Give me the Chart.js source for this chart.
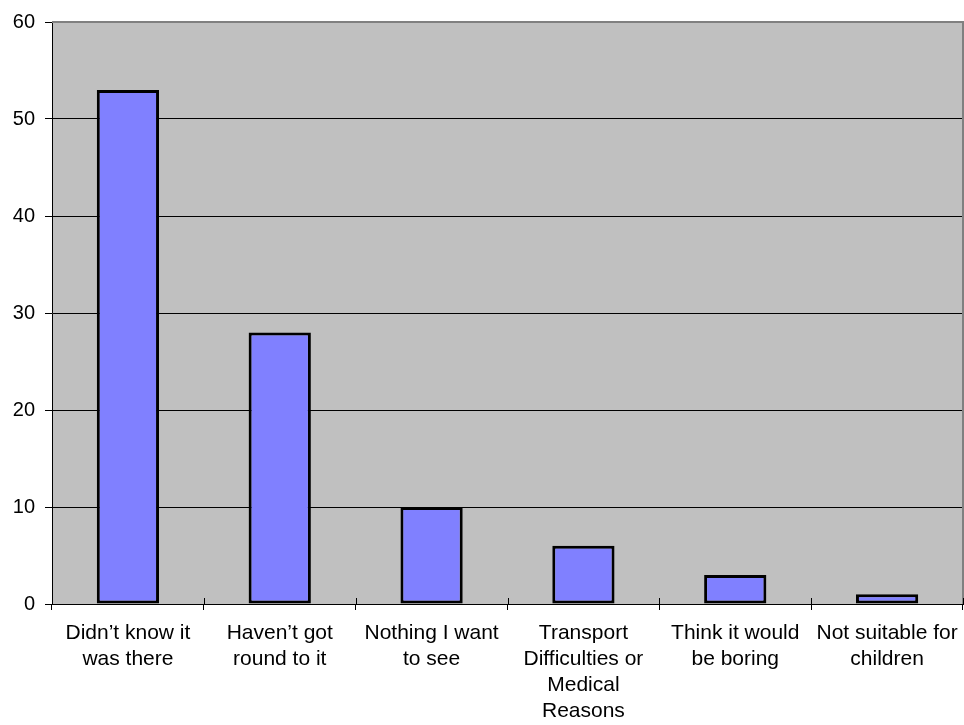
<!DOCTYPE html>
<html>
<head>
<meta charset="utf-8">
<script src="https://cdn.jsdelivr.net/npm/chart.js@4/dist/chart.umd.min.js"></script>
<style>
  html, body { margin: 0; padding: 0; background: #ffffff; }
  #wrap { width: 964px; height: 725px; }
</style>
</head>
<body>
<div id="wrap"><canvas id="chart"></canvas></div>
<script>
// Reasons given for not visiting, with number of responses
const categories = [
  ["Didn\u2019t know it", "was there"],
  ["Haven\u2019t got", "round to it"],
  ["Nothing I want", "to see"],
  ["Transport", "Difficulties or", "Medical", "Reasons"],
  ["Think it would", "be boring"],
  ["Not suitable for", "children"]
];
const responses = [53, 28, 10, 6, 3, 1];
const yTicks = [0, 10, 20, 30, 40, 50, 60];

// Grey plot background, grey top/right frame and the short tick marks
// that poke up into the plot at each category boundary.
const plotFrame = {
  id: 'plotFrame',
  beforeDraw(chart) {
    const { ctx, chartArea: a } = chart;
    ctx.save();
    ctx.fillStyle = '#c0c0c0';
    ctx.fillRect(a.left, a.top, a.right - a.left, a.bottom - a.top);
    ctx.restore();
  },
  afterDatasetsDraw(chart) {
    const { ctx, chartArea: a, scales } = chart;
    ctx.save();
    ctx.strokeStyle = '#808080';
    ctx.lineWidth = 2;
    ctx.beginPath();
    ctx.moveTo(a.left, a.top);
    ctx.lineTo(a.right, a.top);
    ctx.lineTo(a.right, a.bottom);
    ctx.stroke();
    // inner half of the category boundary ticks
    const x = scales.x;
    const n = categories.length;
    ctx.strokeStyle = '#000000';
    ctx.lineWidth = 1;
    ctx.beginPath();
    for (let i = 0; i <= n; i++) {
      const px = Math.round(x.left + (x.right - x.left) * i / n) + 0.5;
      ctx.moveTo(px, a.bottom);
      ctx.lineTo(px, a.bottom - 6);
    }
    ctx.stroke();
    ctx.restore();
  }
};

const labelFont = { family: 'Liberation Sans, Arial, sans-serif', size: 21, lineHeight: 1.24 };

new Chart(document.getElementById('chart'), {
  type: 'bar',
  data: {
    labels: categories,
    datasets: [{
      data: responses,
      backgroundColor: '#8080ff',
      borderColor: '#000000',
      borderWidth: 3,
      borderSkipped: false,
      barPercentage: 0.41,
      categoryPercentage: 1.0
    }]
  },
  options: {
    responsive: true,
    maintainAspectRatio: false,
    animation: false,
    layout: { padding: { top: 19, right: 1, left: 0, bottom: 0 } },
    plugins: {
      legend: { display: false },
      tooltip: { enabled: false }
    },
    scales: {
      x: {
        offset: true,
        grid: {
          offset: true,
          drawOnChartArea: false,
          drawTicks: true,
          tickLength: 6,
          color: '#000000',
          lineWidth: 1
        },
        border: { display: true, color: '#000000', width: 1 },
        ticks: {
          color: '#000000',
          font: labelFont,
          padding: 10,
          maxRotation: 0,
          autoSkip: false
        },
        afterFit(scale) {
          scale.height = 121;
          scale.paddingLeft = 0;
          scale.paddingRight = 0;
        }
      },
      y: {
        min: yTicks[0],
        max: yTicks[yTicks.length - 1],
        afterBuildTicks(scale) { scale.ticks = yTicks.map(v => ({ value: v })); },
        grid: {
          color: '#000000',
          lineWidth: 1,
          drawTicks: true,
          tickLength: 7
        },
        border: { display: true, color: '#000000', width: 1 },
        ticks: {
          color: '#000000',
          font: { family: 'Liberation Sans, Arial, sans-serif', size: 20 },
          padding: 10
        },
        afterFit(scale) { scale.width = 52; }
      }
    }
  },
  plugins: [plotFrame]
});
</script>
</body>
</html>
